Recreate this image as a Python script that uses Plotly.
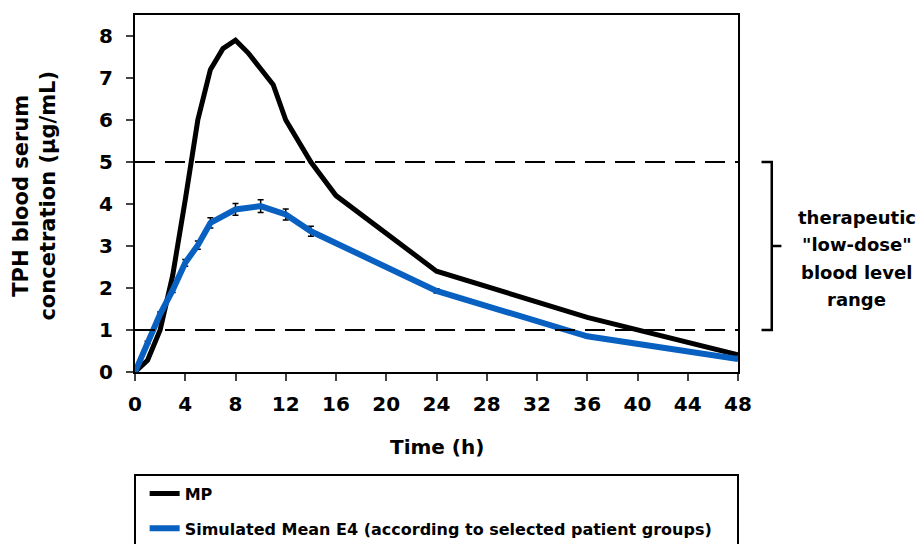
import plotly.graph_objects as go

# ---- data ----
mp_time = [0, 1, 2, 3, 4, 5, 6, 7, 8, 9, 10, 11, 12, 14, 16, 24, 36, 48]
mp_conc = [0, 0.28, 1.0, 2.3, 4.1, 6.0, 7.2, 7.7, 7.9, 7.6, 7.22, 6.84, 6.0, 5.0, 4.2, 2.4, 1.3, 0.41]

e4_time = [0, 1, 2, 3, 4, 5, 6, 8, 10, 12, 14, 24, 36, 48]
e4_conc = [0, 0.7, 1.38, 1.95, 2.6, 3.02, 3.55, 3.87, 3.95, 3.75, 3.35, 1.93, 0.85, 0.31]
e4_err = [0, 0.03, 0.05, 0.06, 0.08, 0.1, 0.12, 0.14, 0.15, 0.13, 0.12, 0.05, 0.03, 0.02]

x_ticks = list(range(0, 49, 4))
y_ticks = list(range(0, 9))
range_low, range_high = 1, 5
range_label = ["therapeutic", "\"low-dose\"", "blood level", "range"]

FONT = "DejaVu Sans, Verdana, sans-serif"


def bfont(size):
    return dict(family=FONT, size=size, color="black", weight="bold")


fig = go.Figure()
fig.add_trace(go.Scatter(
    x=mp_time, y=mp_conc, mode="lines", name="MP",
    line=dict(color="black", width=5), legendgroup="a"))
fig.add_trace(go.Scatter(
    x=e4_time, y=e4_conc, mode="lines",
    name="Simulated Mean E4 (according to selected patient groups)",
    line=dict(color="#0860C0", width=6), legendgroup="b",
    error_y=dict(type="data", array=e4_err, color="black", thickness=1.5, width=3)))

# dashed therapeutic range lines
for yv in (range_low, range_high):
    fig.add_shape(type="line", xref="x", yref="y", x0=0, x1=48, y0=yv, y1=yv,
                  line=dict(color="black", width=2, dash="20px,10px"))

# bracket
xa, xb, xc = 1.039, 1.056, 1.072
fig.add_shape(type="path", xref="paper", yref="y",
              path=f"M {xa},{range_high} L {xb},{range_high} L {xb},{range_low} L {xa},{range_low}",
              line=dict(color="black", width=2.5))
fig.add_shape(type="line", xref="paper", yref="y", x0=xb, x1=xc,
              y0=(range_low + range_high) / 2, y1=(range_low + range_high) / 2,
              line=dict(color="black", width=2.5))

# label beside bracket, one line per annotation
for i, line_text in enumerate(range_label):
    fig.add_annotation(xref="paper", yref="y", x=1.197, y=3.69 - 0.655 * i,
                       text=line_text, showarrow=False, xanchor="center", yanchor="middle",
                       font=bfont(18))

# axis titles
fig.add_annotation(xref="paper", yref="paper", x=0.5, y=-0.21,
                   text="Time (h)", showarrow=False, xanchor="center", yanchor="middle",
                   font=bfont(20))
fig.add_annotation(xref="paper", yref="paper", x=-0.167, y=0.495,
                   text="TPH blood serum<br>concetration (µg/mL)", showarrow=False,
                   textangle=-90, xanchor="center", yanchor="middle",
                   font=bfont(21))

# legend box
fig.add_shape(type="rect", xref="paper", yref="paper", x0=0, x1=1, y0=-0.65, y1=-0.2885,
              line=dict(color="black", width=2), fillcolor="rgba(0,0,0,0)")

fig.update_layout(
    width=921, height=544,
    margin=dict(l=135, r=183, t=15, b=172, autoexpand=False),
    paper_bgcolor="white", plot_bgcolor="white",
    font=bfont(20),
    showlegend=True,
    legend=dict(x=0.016, y=-0.293, xanchor="left", yanchor="top",
                bgcolor="rgba(0,0,0,0)", borderwidth=0,
                font=bfont(16),
                tracegroupgap=11, itemwidth=30),
    xaxis=dict(range=[0, 48], tickvals=x_ticks, ticks="outside", ticklen=7, tickwidth=2,
               showline=True, linecolor="black", linewidth=2, mirror=True,
               showgrid=False, zeroline=False, ticklabelstandoff=6, automargin=False,
               tickfont=bfont(20)),
    yaxis=dict(range=[0, 8.5], tickvals=y_ticks, ticks="outside", ticklen=7, tickwidth=2,
               showline=True, linecolor="black", linewidth=2, mirror=True,
               showgrid=False, zeroline=False, ticklabelstandoff=9, automargin=False,
               tickfont=bfont(20)),
)

fig.write_html("out.html")
